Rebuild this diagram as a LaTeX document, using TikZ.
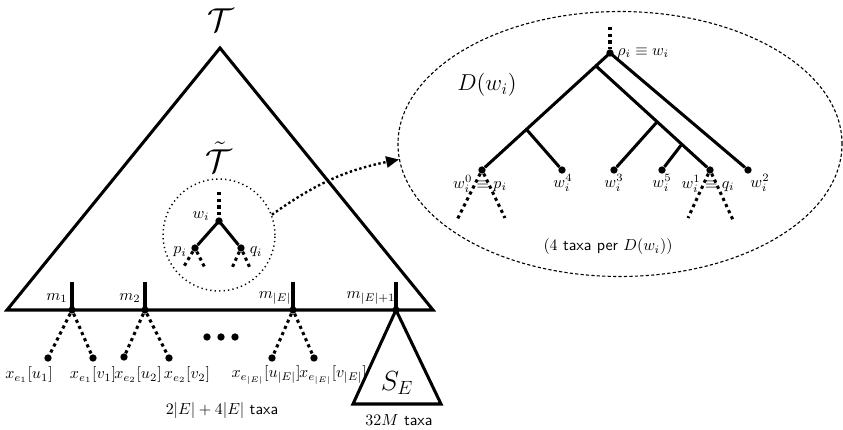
\documentclass[tikz,border=0pt]{standalone}
\usetikzlibrary{shapes.geometric,arrows.meta,positioning}
\begin{document}
\begin{tikzpicture}[x=0.022cm,y=-0.022cm,
    edge/.style={line width=1.9pt},
    dotedge/.style={line width=1.9pt,dash pattern=on 2pt off 2.2pt},
    dot/.style={circle,fill,inner sep=0pt,minimum size=4.6pt},
    lbl/.style={inner sep=0pt}]
\useasboundingbox (0,0) rectangle (843,430);
%big tree
        \coordinate (top) at (220,48);
        \coordinate (bl) at (7,310);
        \coordinate (br) at (433,310);
        \draw [edge] (bl) -- (top) -- (br) -- cycle;
        \node[lbl] (tname) at (221,20) {\huge $\mathcal{T}$};
        \node[lbl] (ttname) at (219,157) {\huge $\tilde{\mathcal{T}}$};
%m nodes
        \foreach \n/\x in {m1/72,m2/145,m3/293,m4/396} {
            \node[dot] (\n) at (\x,310) {};
            \coordinate (\n t) at (\x,282);
            \draw [edge] (\n t) -- (\n.center);
        }
        \node[lbl] (lm1) at (57,298) {$m_1$};
        \node[lbl] (lm2) at (130,298) {$m_2$};
        \node[lbl] (lm3) at (275,298) {$m_{|E|}$};
        \node[lbl] (lm4) at (371,298) {$m_{|E|+1}$};
%leaves
        \node[dot] (xu1) at (48,358) {};
        \node[dot] (xv1) at (93,358) {};
        \node[dot] (xu2) at (124,357) {};
        \node[dot] (xv2) at (169,358) {};
        \node[dot] (xu3) at (272,358) {};
        \node[dot] (xv3) at (314,358) {};
        \draw [dotedge] (m1) -- (xu1);
        \draw [dotedge] (m1) -- (xv1);
        \draw [dotedge] (m2) -- (xu2);
        \draw [dotedge] (m2) -- (xv2);
        \draw [dotedge] (m3) -- (xu3);
        \draw [dotedge] (m3) -- (xv3);
        \node[lbl] (lxu1) at (29,375) {$x_{e_1}[u_1]$};
        \node[lbl] (lxv1) at (93,375) {$x_{e_1}[v_1]$};
        \node[lbl] (lxu2) at (138,375) {$x_{e_2}[u_2]$};
        \node[lbl] (lxv2) at (187,375) {$x_{e_2}[v_2]$};
        \node[lbl] (lxu3) at (266,375) {$x_{e_{|E|}}[u_{|E|}]$};
        \node[lbl] (lxv3) at (333,375) {$x_{e_{|E|}}[v_{|E|}]$};
        \foreach \x [count=\k] in {207,221,235}
            \node[dot] (ell\k) at (\x,337) {};
        \node[lbl] (ltaxa) at (222,411) {$2|E|+4|E|$ \textsf{taxa}};
%S_E
        \coordinate (sl) at (353,404);
        \coordinate (sr) at (441,404);
        \draw [edge] (m4.center) -- (sl) -- (sr) -- cycle;
        \node[lbl] (se) at (397,383) {\LARGE $S_E$};
        \node[lbl] (lse) at (399,420) {$32M$ \textsf{taxa}};
%small tree
        \node[circle,draw,minimum size=2.464cm,inner sep=0pt,line width=0.9pt,dash pattern=on 0.8pt off 2pt] (tcirc) at (219,235) {};
        \node[dot] (wi) at (219,221) {};
        \node[dot] (pi) at (195,248) {};
        \node[dot] (qi) at (241,248) {};
        \coordinate (wit) at (219,192);
        \coordinate (pa) at (183,268);
        \coordinate (pb) at (205,268);
        \coordinate (qa) at (232,268);
        \coordinate (qb) at (250,268);
        \draw [dotedge] (wit) -- (wi);
        \draw [edge] (pi) -- (wi.center) -- (qi);
        \draw [dotedge] (pi) -- (pa);
        \draw [dotedge] (pi) -- (pb);
        \draw [dotedge] (qi) -- (qa);
        \draw [dotedge] (qi) -- (qb);
        \node[lbl] (lwi) at (201,216) {$w_i$};
        \node[lbl] (lpi) at (180,252) {$p_i$};
        \node[lbl] (lqi) at (256,252) {$q_i$};
%D(w_i)
        \node[ellipse,draw,minimum width=9.77cm,minimum height=5.83cm,inner sep=0pt,line width=0.7pt,dash pattern=on 2pt off 1.4pt] (dell) at (620,144) {};
        \draw [line width=1.5pt,dash pattern=on 1.5pt off 1.6pt,-{Triangle[length=8pt,width=7pt]}] (tcirc.21) to[bend left=12] (dell.184);
        \node[lbl] (dname) at (487,85) {\Large $D(w_i)$};
        \node[dot] (r) at (610,53) {};
        \coordinate (rt) at (610,27);
        \draw [dotedge] (rt) -- (r);
        \node[lbl,anchor=west] (lr) at (617,53) {$\rho_i\equiv w_i$};
        \node[dot] (w0) at (482,170) {};
        \node[dot] (w4) at (562,170) {};
        \node[dot] (w3) at (614,170) {};
        \node[dot] (w5) at (662,170) {};
        \node[dot] (w1) at (710,170) {};
        \node[dot] (w2) at (748,170) {};
        \coordinate (da) at (527,130);
        \coordinate (db) at (596,66);
        \coordinate (dc) at (657,122);
        \coordinate (dd) at (682,144);
        \draw [edge] (r.center) -- (w0);
        \draw [edge] (r.center) -- (w2);
        \draw [edge] (da) -- (w4);
        \draw [edge] (db) -- (w1);
        \draw [edge] (dc) -- (w3);
        \draw [edge] (dd) -- (w5);
        \coordinate (w0a) at (457,220);
        \coordinate (w0b) at (505,218);
        \coordinate (w1a) at (688,218);
        \coordinate (w1b) at (733,220);
        \draw [dotedge] (w0) -- (w0a);
        \draw [dotedge] (w0) -- (w0b);
        \draw [dotedge] (w1) -- (w1a);
        \draw [dotedge] (w1) -- (w1b);
        \node[lbl] (lw0) at (480,184) {$w_i^0\equiv p_i$};
        \node[lbl] (lw4) at (563,183) {$w_i^4$};
        \node[lbl] (lw3) at (614,183) {$w_i^3$};
        \node[lbl] (lw5) at (662,183) {$w_i^5$};
        \node[lbl] (lw1) at (708,184) {$w_i^1\equiv q_i$};
        \node[lbl] (lw2) at (760,183) {$w_i^2$};
        \node[lbl] (lper) at (608,247) {$(4$ \textsf{taxa per} $D(w_i))$};
    \end{tikzpicture}
\end{document}
